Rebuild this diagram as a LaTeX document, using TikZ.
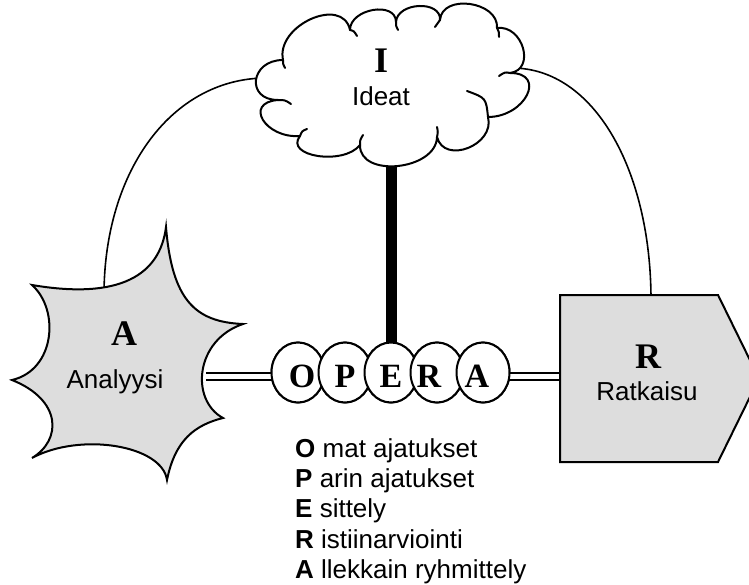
\documentclass[tikz,border=0pt]{standalone}
\usepackage{fontspec}
\setmainfont{Liberation Serif}
\setsansfont{Liberation Sans}
\usetikzlibrary{shapes.geometric,calc}
\definecolor{shapegray}{HTML}{DDDDDD}
\tikzset{
  outline/.style={draw=black, line width=2pt, line join=miter, fill=shapegray},
  cloudline/.style={draw=black, line width=2pt, line cap=round},
  linkarc/.style={draw=black, line width=1.6pt},
  thickbar/.style={draw=black, line width=11pt},
  twinline/.style={draw=black, line width=1.8pt, double=white, double distance=5.2pt},
  ballstyle/.style={ellipse, draw=black, line width=2pt, fill=white,
    minimum width=53pt, minimum height=60pt, inner sep=0pt},
  bigletter/.style={font=\fontsize{36}{40}\selectfont\bfseries, anchor=base, inner sep=0pt},
  ballletter/.style={font=\fontsize{34}{38}\selectfont\bfseries, anchor=base, inner sep=0pt},
  caption/.style={font=\sffamily\fontsize{26}{30}\selectfont, anchor=base, inner sep=0pt},
  listline/.style={font=\sffamily\fontsize{26}{30}\selectfont, anchor=base west, inner sep=0pt}
}
% one puff of the cloud: from #1 through the apex #2 to #3
\newcommand{\puff}[3]{.. controls ($0.3333*(#1)+1.3333*(#2)-0.6667*(#3)$)
  and ($0.3333*(#3)+1.3333*(#2)-0.6667*(#1)$) .. (#3)}
\begin{document}
\begin{tikzpicture}[x=1pt,y=-1pt]
\clip (0,0) rectangle (749,585);

% anchor points of the shapes drawn by hand
\coordinate (cloudL) at (270,78);
\coordinate (cloudR) at (512,68);
\coordinate (cloudIn) at (393,120);
\coordinate (starTop) at (104,295);
\coordinate (starRight) at (206,376.3);
\coordinate (boxTop) at (651,300);
\coordinate (boxLeft) at (566,376.3);

% the five OPERA balls (placed first so connectors can refer to them)
\path
  node[ballstyle] (bO) at (298,372.5) {}
  node[ballstyle] (bP) at (345,372.5) {}
  node[ballstyle] (bE) at (391,372.5) {}
  node[ballstyle] (bR) at (437,372.5) {}
  node[ballstyle] (bA) at (483,372.5) {};

% connectors, drawn below the shapes
\draw[linkarc] (cloudL) .. controls (173,76) and (104,170) .. (starTop);
\draw[linkarc] (cloudR) .. controls (594,68) and (651,170) .. (boxTop);
\draw[thickbar] (bE.center |- cloudIn) -- ([yshift=-4pt]bE.north);
\draw[twinline] (starRight) -- ([xshift=6pt]bO.west |- starRight);
\draw[twinline] ([xshift=-6pt]bA.east |- boxLeft) -- (boxLeft);

% Analyysi: star burst
\draw[outline] (32,285)
  .. controls (120,300) and (160,275) .. (166,227)
  .. controls (172,300) and (195,322) .. (243,324)
  .. controls (195,340) and (190,400) .. (223,418)
  .. controls (195,425) and (175,440) .. (167,480)
  .. controls (162,445) and (80,432) .. (32,458)
  .. controls (62,440) and (62,400) .. (12,380)
  .. controls (55,370) and (60,310) .. cycle;

% Ratkaisu: pointed box
\draw[outline] (560,295) -- (718,295) -- (759,378.5) -- (718,462) -- (560,462) -- cycle;

% Ideat: cloud made of puffs
\draw[cloudline, fill=white, line join=round] (300,136)
  \puff{300,136}{263,120}{278,100}
  \puff{278,100}{256,80}{283,60}
  \puff{283,60}{311,19}{350,30}
  \puff{350,30}{373,10}{396,22}
  \puff{396,22}{419,6}{440,20}
  \puff{440,20}{470,4}{497,28}
  \puff{497,28}{523,48}{510,73}
  \puff{510,73}{527,95}{488,117}
  \puff{488,117}{468,148}{437,137}
  \puff{437,137}{398,166}{360,145}
  \puff{360,145}{318,156}{300,136} -- cycle;
% small inner curls where puffs meet
\draw[cloudline] (278,100) .. controls (285,100) .. (291,104);
\draw[cloudline] (300,136) .. controls (302,131) .. (307,129);
\draw[cloudline] (360,145) .. controls (360,140) .. (363,135);
\draw[cloudline] (437,137) .. controls (438,132) .. (437,127);
\draw[cloudline] (467,91) .. controls (486,98) .. (488,117);
\draw[cloudline] (510,73) .. controls (505,72) .. (499,76);
\draw[cloudline] (497,28) .. controls (499,32) .. (499,37);
\draw[cloudline] (440,20) .. controls (438,24) .. (435,27);
\draw[cloudline] (396,22) .. controls (396,26) .. (398,30);
\draw[cloudline] (350,30) .. controls (354,31) .. (357,36);
\draw[cloudline] (283,60) .. controls (283,64) .. (285,68);

% redraw balls on top, in order, so each overlaps the previous one
\foreach \b in {bO,bP,bE,bR,bA}
  \path (\b) node[ballstyle] {};

% texts
\node[bigletter] (tI) at (381,73) {I};
\node[caption] (tIdeat) at (381,106) {Ideat};
\node[bigletter] (tA) at (124,345) {A};
\node[caption] (tAnal) at (115,388) {Analyysi};
\node[bigletter] (tR) at (648,368) {R};
\node[caption] (tRatk) at (647,400) {Ratkaisu};

\node[ballletter] (lO) at (302,387) {O};
\node[ballletter] (lP) at (345,387) {P};
\node[ballletter] (lE) at (391,387) {E};
\node[ballletter] (lR) at (429,387) {R};
\node[ballletter] (lA) at (477,387) {A};

\node[listline] (k1) at (295,457.0) {\textbf{O} mat ajatukset};
\node[listline] (k2) at (295,487.4) {\textbf{P} arin ajatukset};
\node[listline] (k3) at (295,517.8) {\textbf{E} sittely};
\node[listline] (k4) at (295,548.2) {\textbf{R} istiinarviointi};
\node[listline] (k5) at (295,578.6) {\textbf{A} llekkain ryhmittely};
\end{tikzpicture}
\end{document}
